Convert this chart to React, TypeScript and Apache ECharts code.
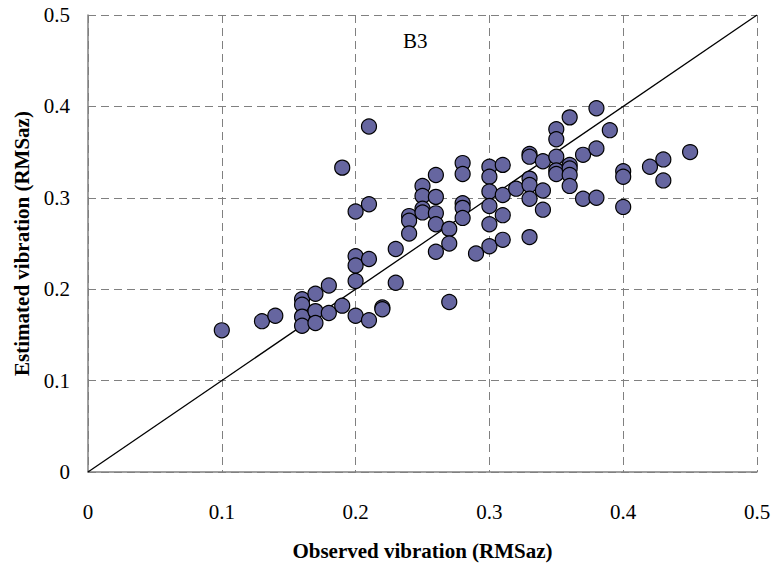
import React, { useEffect, useRef } from "react";
import * as echarts from "echarts";

const observed: number[] = [
  0.10, 0.13, 0.14, 0.16, 0.16, 0.16, 0.16, 0.17, 0.17, 0.17, 0.18, 0.18, 0.19, 0.19,
  0.20, 0.20, 0.20, 0.20, 0.20, 0.21, 0.21, 0.21, 0.21, 0.22, 0.22, 0.23, 0.23,
  0.24, 0.24, 0.24, 0.25, 0.25, 0.25, 0.25, 0.26, 0.26, 0.26, 0.26, 0.26,
  0.27, 0.27, 0.27, 0.28, 0.28, 0.28, 0.28, 0.28, 0.29,
  0.30, 0.30, 0.30, 0.30, 0.30, 0.30, 0.31, 0.31, 0.31, 0.31, 0.32,
  0.33, 0.33, 0.33, 0.33, 0.33, 0.33, 0.34, 0.34, 0.34,
  0.35, 0.35, 0.35, 0.35, 0.35, 0.36, 0.36, 0.36, 0.36, 0.36,
  0.37, 0.37, 0.38, 0.38, 0.38, 0.39, 0.40, 0.40, 0.40, 0.42, 0.43, 0.43, 0.45,
];
const estimated: number[] = [
  0.155, 0.165, 0.171, 0.189, 0.183, 0.170, 0.160, 0.195, 0.176, 0.163, 0.204, 0.174, 0.182, 0.333,
  0.285, 0.236, 0.226, 0.209, 0.171, 0.378, 0.293, 0.233, 0.166, 0.180, 0.178, 0.244, 0.207,
  0.280, 0.275, 0.261, 0.313, 0.302, 0.288, 0.284, 0.325, 0.301, 0.283, 0.271, 0.241,
  0.266, 0.250, 0.186, 0.338, 0.326, 0.294, 0.289, 0.278, 0.239,
  0.334, 0.323, 0.307, 0.291, 0.271, 0.247, 0.336, 0.303, 0.281, 0.254, 0.310,
  0.348, 0.345, 0.321, 0.314, 0.299, 0.257, 0.340, 0.308, 0.287,
  0.375, 0.364, 0.345, 0.330, 0.326, 0.388, 0.336, 0.332, 0.325, 0.313,
  0.347, 0.299, 0.398, 0.354, 0.300, 0.374, 0.329, 0.323, 0.290, 0.334, 0.342, 0.319, 0.350,
];
const identityLine: number[][] = [[0, 0], [0.5, 0.5]];
const panelLabel = "B3";
const xTitle = "Observed vibration (RMSaz)";
const yTitle = "Estimated vibration (RMSaz)";

const FONT = "'Liberation Serif', 'Times New Roman', serif";

export default function App() {
  const ref = useRef<HTMLDivElement>(null);
  useEffect(() => {
    if (!ref.current) return;
    const chart = echarts.init(ref.current, null, { renderer: "svg" });
    const fmt = (v: number) => (v === 0 ? "0" : String(Math.round(v * 10) / 10));
    chart.setOption({
      animation: false,
      backgroundColor: "#ffffff",
      textStyle: { fontFamily: FONT },
      grid: { left: 88, right: 17, top: 15, bottom: 97, containLabel: false },
      title: {
        text: panelLabel,
        left: 403,
        top: 30,
        padding: 0,
        textStyle: { fontFamily: FONT, fontSize: 21, fontWeight: "normal", color: "#000" },
      },
      xAxis: {
        type: "value",
        min: 0,
        max: 0.5,
        interval: 0.1,
        name: xTitle,
        nameLocation: "middle",
        nameGap: 79,
        nameTextStyle: {
          fontFamily: FONT, fontSize: 21, fontWeight: "bold", color: "#000",
          align: "center", verticalAlign: "middle",
        },
        axisLine: { show: true, lineStyle: { color: "#808080", width: 1.5 } },
        axisTick: { show: false },
        axisLabel: { formatter: fmt, fontFamily: FONT, fontSize: 21, color: "#000", margin: 29 },
        splitLine: { show: true, lineStyle: { color: "#808080", type: [8, 5], width: 1 } },
      },
      yAxis: {
        type: "value",
        min: 0,
        max: 0.5,
        interval: 0.1,
        name: yTitle,
        nameLocation: "middle",
        nameGap: 58,
        nameTextStyle: {
          fontFamily: FONT, fontSize: 21, fontWeight: "bold", color: "#000",
          align: "center", verticalAlign: "middle",
        },
        axisLine: { show: true, lineStyle: { color: "#808080", width: 1.5 } },
        axisTick: { show: false },
        axisLabel: { formatter: fmt, fontFamily: FONT, fontSize: 21, color: "#000", margin: 18 },
        splitLine: { show: true, lineStyle: { color: "#808080", type: [8, 5], width: 1 } },
      },
      series: [
        {
          type: "line",
          data: identityLine,
          symbol: "none",
          lineStyle: { color: "#000", width: 1.3 },
          silent: true,
          z: 1,
        },
        {
          type: "scatter",
          data: observed.map((x, i) => [x, estimated[i]]),
          symbol: "circle",
          symbolSize: 15,
          itemStyle: { color: "#6666A0", borderColor: "#000", borderWidth: 1.2, opacity: 1 },
          z: 2,
        },
      ],
    });
    return () => chart.dispose();
  }, []);
  return (
    <div
      ref={ref}
      style={{ position: "fixed", left: 0, top: 0, width: 774, height: 569 }}
    />
  );
}
